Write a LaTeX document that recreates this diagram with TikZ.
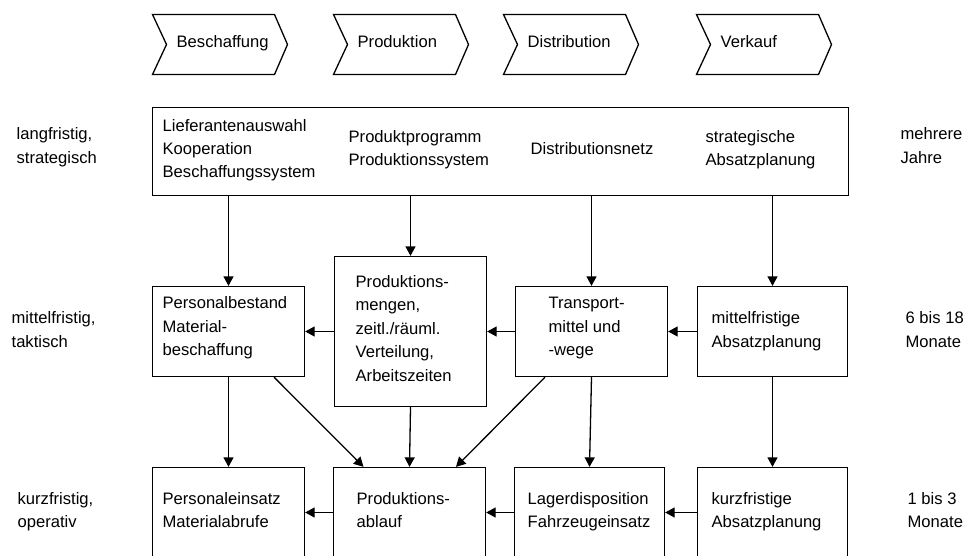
\documentclass[tikz,border=0pt]{standalone}
\usepackage{fontspec}
\setmainfont{Liberation Sans}
\usetikzlibrary{arrows.meta}
\begin{document}
\begin{tikzpicture}[x=1pt,y=-1pt,
  line width=1.3pt,
  every node/.style={font=\fontsize{16.6}{23.5}\selectfont},
  box/.style={draw, rectangle, inner sep=0pt, minimum width=#1},
  box/.default=151,
  % multi-line labels are placed by the baseline of their last line
  txt/.style={anchor=base west, align=left, inner sep=0pt},
  arr/.style={-{Triangle[length=9.5pt,width=10pt]}},
  chev/.style={draw, line join=miter}
]
\useasboundingbox (0,0) rectangle (965,556);
\clip (0,0) rectangle (965,556);

% process chevrons
\foreach \l/\name/\lab in {152.5/c1/Beschaffung, 333.5/c2/Produktion, 503.5/c3/Distribution, 696.5/c4/Verkauf}{
  \draw[chev] (\l,14.5) -- ++(122,0) -- ++(13,30) -- ++(-13,30) -- ++(-122,0) -- ++(14,-30) -- cycle;
  \node[txt] (\name) at (\l+23.5,48) {\lab};
}

% strategic level
\node[draw, inner sep=0pt, minimum width=696, minimum height=88] (top) at (500.5,151.5) {};
\node[txt] (t1) at (162,178) {Lieferantenauswahl\\Kooperation\\Beschaffungssystem};
\node[txt] (t2) at (348,165.5) {Produktprogramm\\Produktionssystem};
\node[txt] (t3) at (530,154) {Distributionsnetz};
\node[txt] (t4) at (705,165.5) {strategische\\Absatzplanung};

% tactical level
\node[box=152, minimum height=90] (m1) at (228.5,331.5) {};
\node[box=152, minimum height=150] (m2) at (410.5,331.5) {};
\node[box=152, minimum height=90] (m3) at (591.5,331.5) {};
\node[box=150, minimum height=90] (m4) at (772.5,331.5) {};
\node[txt] (m1t) at (162,355.5) {Personalbestand\\Material-\\beschaffung};
\node[txt] (m2t) at (355,381) {Produktions-\\mengen,\\zeitl./räuml.\\Verteilung,\\Arbeitszeiten};
\node[txt] (m3t) at (548,355.5) {Transport-\\mittel und\\-wege};
\node[txt] (m4t) at (711,347) {mittelfristige\\Absatzplanung};

% operative level
\node[box=152, minimum height=90] (b1) at (228.5,512.5) {};
\node[box=152, minimum height=90] (b2) at (409.5,512.5) {};
\node[box=150, minimum height=90] (b3) at (589.5,512.5) {};
\node[box=150, minimum height=90] (b4) at (772.5,512.5) {};
\node[txt] (b1t) at (162,527.5) {Personaleinsatz\\Materialabrufe};
\node[txt] (b2t) at (356,527.5) {Produktions-\\ablauf};
\node[txt] (b3t) at (527,527.5) {Lagerdisposition\\Fahrzeugeinsatz};
\node[txt] (b4t) at (711,527.5) {kurzfristige\\Absatzplanung};

% planning horizon labels
\node[txt] (l1) at (16,163.5) {langfristig,\\strategisch};
\node[txt] (l2) at (11,347) {mittelfristig,\\taktisch};
\node[txt] (l3) at (17,527.5) {kurzfristig,\\operativ};
\node[txt] (r1) at (900,163.5) {mehrere\\Jahre};
\node[txt] (r2) at (905,347) {6 bis 18\\Monate};
\node[txt] (r3) at (907,527.5) {1 bis 3\\Monate};

% top-down connections
\foreach \n in {m1,m2,m3,m4}{
  \draw[arr] (\n.north |- top.south) -- (\n.north);
}
\draw[arr] (m1.south) -- (b1.north);
\draw[arr] (m2.south) -- (b2.north);
\draw[arr] (m3.south) -- (b3.north);
\draw[arr] (m4.south) -- (b4.north);
\draw[arr] ([xshift=45.5]m1.south) -- ([xshift=-46]b2.north);
\draw[arr] ([xshift=-46.5]m3.south) -- ([xshift=46.5]b2.north);

% right-to-left connections
\draw[arr] (m4.west) -- (m3.east);
\draw[arr] (m3.west) -- (m2.east);
\draw[arr] (m2.west) -- (m1.east);
\draw[arr] (b4.west) -- (b3.east);
\draw[arr] (b3.west) -- (b2.east);
\draw[arr] (b2.west) -- (b1.east);
\end{tikzpicture}
\end{document}
